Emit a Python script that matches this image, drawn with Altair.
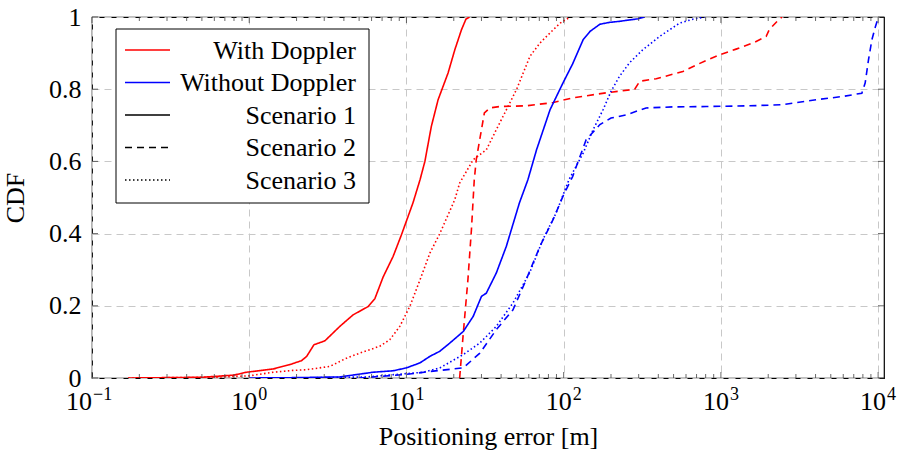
import altair as alt
import pandas as pd

# ---------------- data ----------------
doppler_labels = ["With Doppler", "Without Doppler"]
scenario_labels = ["Scenario 1", "Scenario 2", "Scenario 3"]

# With Doppler, Scenario 1
wd1_x = [0.17, 0.5, 0.8, 0.96, 1.42, 1.81, 2.15, 2.32, 2.58, 3.03, 3.77, 4.58, 5.71, 6.3, 7.11,
         8.23, 9.3, 11.0, 12.2, 13.1, 14.4, 15.9, 18.4, 20.3, 22.4, 23.9, 25.2]
wd1_y = [0, 0.002, 0.008, 0.016, 0.025, 0.037, 0.048, 0.06, 0.092, 0.103, 0.143, 0.175, 0.198, 0.22, 0.28,
         0.337, 0.397, 0.485, 0.549, 0.60, 0.697, 0.771, 0.845, 0.909, 0.965, 0.994, 1.0]
# With Doppler, Scenario 2
wd2_x = [21.8, 23.0, 24.6, 25.9, 27.0, 27.8, 30.0, 31.3, 33.9, 39.2, 57.7, 85.9, 114, 186, 283, 305,
         388, 573, 706, 808, 1006, 1250, 1600, 1940, 2030, 2350, 2450]
wd2_y = [0, 0.125, 0.272, 0.411, 0.549, 0.605, 0.688, 0.734, 0.748, 0.752, 0.754, 0.763, 0.776, 0.79, 0.80, 0.822,
         0.829, 0.849, 0.868, 0.88, 0.897, 0.911, 0.928, 0.946, 0.965, 0.994, 1.0]
# With Doppler, Scenario 3
wd3_x = [0.17, 0.6, 1.0, 1.42, 1.89, 2.32, 3.25, 4.16, 5.05, 6.77, 7.83, 9.07, 10.5, 12.2, 14.1, 16.3,
         20.3, 21.8, 26.6, 32.2, 37.3, 43.2, 50.1, 55.3, 61, 70.7, 81.9, 95, 110]
wd3_y = [0, 0.002, 0.006, 0.016, 0.021, 0.023, 0.032, 0.055, 0.069, 0.088, 0.106, 0.143, 0.198, 0.272, 0.346, 0.40,
         0.494, 0.54, 0.605, 0.632, 0.688, 0.743, 0.799, 0.845, 0.891, 0.928, 0.956, 0.983, 1.0]
# Without Doppler, Scenario 1
wo1_x = [1.0, 2.0, 3.77, 6.14, 8.23, 10.0, 12.2, 14.1, 16.3, 18.9, 23.0, 26.6, 30.0, 32.2, 37.3, 43.2,
         52.3, 59.2, 67.2, 81.9, 98.9, 114, 133, 147, 170, 195, 226, 297, 326]
wo1_y = [0, 0.001, 0.003, 0.016, 0.02, 0.028, 0.042, 0.06, 0.074, 0.097, 0.129, 0.171, 0.226, 0.235, 0.291, 0.365,
         0.485, 0.549, 0.632, 0.743, 0.817, 0.87, 0.937, 0.96, 0.98, 0.985, 0.988, 0.995, 1.0]
# Without Doppler, Scenario 2
wo2_x = [5.0, 10.0, 14.1, 23, 29.3, 37.3, 47.6, 57.7, 70.7, 85.9, 98.9, 114, 139, 170, 200, 250, 334,
         496, 808, 1520, 2450, 4060, 6000, 7880, 8270, 8690, 9130, 9620, 10050]
wo2_y = [0, 0.01, 0.018, 0.028, 0.069, 0.134, 0.189, 0.272, 0.365, 0.44, 0.503, 0.558, 0.66, 0.702, 0.72, 0.729, 0.748,
         0.751, 0.752, 0.754, 0.757, 0.771, 0.78, 0.789, 0.817, 0.882, 0.937, 0.974, 1.0]
# Without Doppler, Scenario 3
wo3_x = [2.0, 5.6, 12.8, 16.3, 23, 29.3, 37.3, 47.6, 60.7, 73.7, 89.5, 108, 133, 154, 178, 200, 226,
         262, 318, 407, 546, 664, 788]
wo3_y = [0, 0.003, 0.016, 0.028, 0.065, 0.097, 0.143, 0.208, 0.291, 0.383, 0.457, 0.549, 0.623, 0.688, 0.743, 0.794,
         0.835, 0.873, 0.909, 0.946, 0.983, 0.994, 1.0]

x_major = [0.1, 1, 10, 100, 1000, 10000]
x_label_base = ["10", "10", "10", "10", "10", "10"]
x_label_exp = ["−1", "0", "1", "2", "3", "4"]
x_minor = [m * d for d in [0.1, 1, 10, 100, 1000] for m in range(2, 10)]
y_ticks = [0, 0.2, 0.4, 0.6, 0.8, 1]

legend_labels = ["With Doppler", "Without Doppler", "Scenario 1", "Scenario 2", "Scenario 3"]
legend_colors = ["#ff0000", "#0000ff", "#000000", "#000000", "#000000"]
legend_dashes = [[1, 0], [1, 0], [1, 0], [7, 5], [1.5, 2.5]]

series = [
    ("With Doppler", "Scenario 1", wd1_x, wd1_y),
    ("With Doppler", "Scenario 2", wd2_x, wd2_y),
    ("With Doppler", "Scenario 3", wd3_x, wd3_y),
    ("Without Doppler", "Scenario 1", wo1_x, wo1_y),
    ("Without Doppler", "Scenario 2", wo2_x, wo2_y),
    ("Without Doppler", "Scenario 3", wo3_x, wo3_y),
]
rows = []
for dop, scen, xs, ys in series:
    for i, (xv, yv) in enumerate(zip(xs, ys)):
        rows.append({"doppler": dop, "scenario": scen, "key": dop + "|" + scen,
                     "err": xv, "cdf": yv, "i": i})
df = pd.DataFrame(rows)

# ---------------- styling ----------------
W, H = 792, 361
FONT = "Liberation Serif"
FS = 26
FS_EXP = 18

xscale = alt.Scale(type="log", domain=[0.1, 10900], nice=False)
yscale = alt.Scale(domain=[0, 1], nice=False)

xaxis = alt.Axis(values=x_major, labels=False, title="Positioning error [m]",
                 grid=True, ticks=False, domain=False, titlePadding=45)
yaxis = alt.Axis(values=y_ticks, format="~g", title="CDF", grid=True, ticks=False,
                 domain=False, labelPadding=11, titlePadding=20)

lines = alt.Chart(df).mark_line(strokeWidth=1.6, clip=True).encode(
    x=alt.X("err:Q", scale=xscale, axis=xaxis),
    y=alt.Y("cdf:Q", scale=yscale, axis=yaxis),
    color=alt.Color("doppler:N", scale=alt.Scale(domain=doppler_labels, range=["#ff0000", "#0000ff"]),
                    legend=None),
    strokeDash=alt.StrokeDash("scenario:N",
                              scale=alt.Scale(domain=scenario_labels, range=[[1, 0], [7, 5], [1.5, 2.5]]),
                              legend=None),
    detail="key:N",
    order="i:Q",
)

tick_color = "#444444"
xmaj_df = pd.DataFrame({"err": x_major})
xmin_df = pd.DataFrame({"err": x_minor})
y_df = pd.DataFrame({"cdf": y_ticks})

tick_layers = []
for d, ln in [(xmaj_df, 6), (xmin_df, 4)]:
    tick_layers.append(alt.Chart(d).mark_rule(color=tick_color, strokeWidth=0.8).encode(
        x=alt.X("err:Q", scale=xscale, axis=xaxis), y=alt.value(H), y2=alt.value(H - ln)))
    tick_layers.append(alt.Chart(d).mark_rule(color=tick_color, strokeWidth=0.8).encode(
        x=alt.X("err:Q", scale=xscale, axis=xaxis), y=alt.value(0), y2=alt.value(ln)))
tick_layers.append(alt.Chart(y_df).mark_rule(color=tick_color, strokeWidth=0.8).encode(
    y=alt.Y("cdf:Q", scale=yscale, axis=yaxis), x=alt.value(0), x2=alt.value(6)))
tick_layers.append(alt.Chart(y_df).mark_rule(color=tick_color, strokeWidth=0.8).encode(
    y=alt.Y("cdf:Q", scale=yscale, axis=yaxis), x=alt.value(W), x2=alt.value(W - 6)))

# ---------------- x tick labels: "10" with a raised exponent ----------------
lab_df = pd.DataFrame({"err": x_major, "base": x_label_base, "exp": x_label_exp})
label_layers = []
for cond, dxv in [("datum.err < 0.5", 0), ("datum.err >= 0.5", 8)]:
    sub = alt.Chart(lab_df).transform_filter(cond)
    label_layers.append(sub.mark_text(align="right", baseline="alphabetic", font=FONT, fontSize=FS,
                                      color="black", dx=dxv, clip=False).encode(
        x=alt.X("err:Q", scale=xscale, axis=xaxis), y=alt.value(H + 32), text="base:N"))
    label_layers.append(sub.mark_text(align="left", baseline="alphabetic", font=FONT, fontSize=FS_EXP,
                                      color="black", dx=dxv + 1, clip=False).encode(
        x=alt.X("err:Q", scale=xscale, axis=xaxis), y=alt.value(H + 22), text="exp:N"))

# ---------------- legend ----------------
box = alt.Chart(pd.DataFrame({"a": [0]})).mark_rect(fill="white", stroke="black", strokeWidth=1).encode(
    x=alt.value(24), x2=alt.value(277), y=alt.value(12), y2=alt.value(186))
legend_layers = [box]
row_y = [33, 65.5, 98, 130.5, 163]
for lab, col, dash, yy in zip(legend_labels, legend_colors, legend_dashes, row_y):
    legend_layers.append(alt.Chart(pd.DataFrame({"t": [lab]})).mark_rule(
        color=col, strokeWidth=1.6, strokeDash=dash).encode(
        x=alt.value(33), x2=alt.value(78), y=alt.value(yy)))
    legend_layers.append(alt.Chart(pd.DataFrame({"t": [lab]})).mark_text(
        align="right", baseline="alphabetic", font=FONT, fontSize=FS, color="black").encode(
        x=alt.value(264), y=alt.value(yy + 8.5), text="t:N"))

chart = alt.layer(lines, *tick_layers, *label_layers, *legend_layers).properties(
    width=W, height=H,
    autosize=alt.AutoSizeParams(type="none"),
    padding={"left": 92, "top": 17, "right": 15, "bottom": 77},
    background="white",
).configure_view(stroke="black", strokeWidth=1.2).configure_axis(
    labelFont=FONT, titleFont=FONT, labelFontSize=FS, titleFontSize=FS,
    labelColor="black", titleColor="black", titleFontWeight="normal",
    gridColor="#c8c8c8", gridDash=[7, 5], gridWidth=1,
)

chart.save("out.html", embed_options={"renderer": "svg", "actions": False})
